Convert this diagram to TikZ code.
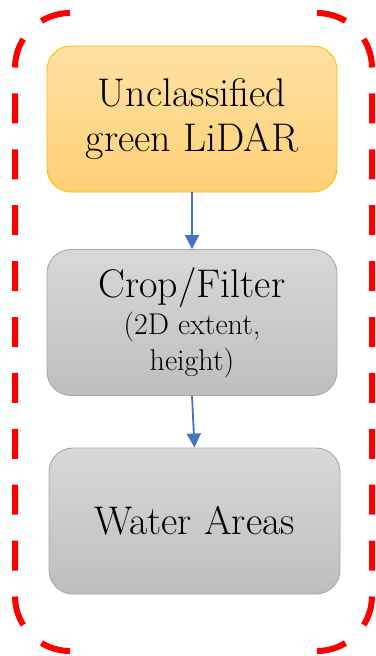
\documentclass[tikz,border=0pt]{standalone}
\usetikzlibrary{arrows.meta}
\definecolor{Otop}{RGB}{255,224,162}
\definecolor{Obot}{RGB}{255,209,118}
\definecolor{Oline}{RGB}{255,192,0}
\definecolor{Gtop}{RGB}{216,216,216}
\definecolor{Gbot}{RGB}{190,190,190}
\definecolor{Gline}{RGB}{168,168,168}
\definecolor{Flow}{RGB}{68,114,196}
\definecolor{Frame}{RGB}{255,0,0}

\begin{document}
\begin{tikzpicture}[x=1pt,y=-1pt,line cap=butt,line join=round,
  stepbox/.style={rounded corners=24pt,minimum width=290pt,minimum height=146pt,
    inner sep=0pt,align=center,line width=0.9pt,font=\fontsize{40}{45}\selectfont},
  orangebox/.style={stepbox,draw=Oline,top color=Otop,bottom color=Obot},
  graybox/.style={stepbox,draw=Gline,top color=Gtop,bottom color=Gbot},
  flow/.style={draw=Flow,line width=1.8pt,-{Triangle[width=14pt,length=14pt]}},
  frame/.style={draw=Frame,line width=6pt,rounded corners=55pt,dash pattern=on 30pt off 25.9pt}]
\path[use as bounding box] (0,0) rectangle (375,656);
% dashed frame, left and right halves
\draw[frame] (70,13) -- (15,13) -- (15,651) -- (70,651);
\draw[frame] (317,13) -- (372,13) -- (372,651) -- (317,651);
% boxes
\node[orangebox] (lidar) at (192,119) {Unclassified\\green LiDAR};
\node[graybox] (crop) at (192,322.5) {Crop/Filter\\[-8pt]{\fontsize{30}{31}\selectfont (2D extent,}\\[-9pt]{\fontsize{30}{31}\selectfont height)}};
\node[graybox,minimum width=291pt] (water) at (194.5,521) {Water Areas};
% arrows
\draw[flow] (lidar.south) -- (crop.north);
\draw[flow] (crop.south) -- (water.north);
\end{tikzpicture}
\end{document}
